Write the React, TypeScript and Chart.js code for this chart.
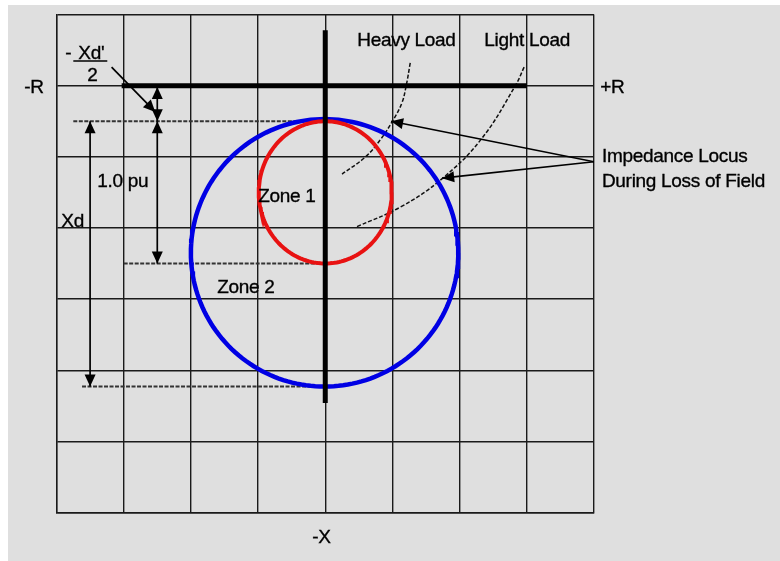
import React, { useEffect, useRef } from "react";
import { Chart, registerables } from "chart.js";
Chart.register(...registerables);

// ---- axes ranges (grid units) ----
const xRange = [-4, 4];
const yRange = [-6, 1];

// ---- circles: Zone 1 (red), Zone 2 (blue) ----
const circleCenterX = [0, -0.01];
const circleCenterY = [-1.5, -2.35];
const circleRadiusX = [0.99, 1.99];
const circleRadiusY = [1.0, 1.88];
const circleColors = ["rgb(232,18,18)", "rgb(0,0,228)"];

// ---- thick R / X axes ----
const rAxisX = [-3.03, 3.0];
const xAxisY = [0.78, -4.46];

// ---- load curves (dashed) ----
const heavyLoadX = [1.265, 1.205, 1.14, 1.01, 0.82, 0.595, 0.25];
const heavyLoadY = [0.32, 0, -0.245, -0.484, -0.76, -1.004, -1.243];
const lightLoadX = [2.96, 2.83, 2.31, 1.71, 1.12, 0.46];
const lightLoadY = [0.26, 0, -0.766, -1.33, -1.706, -1.987];

// ---- dotted reference lines ----
const refLineY = [-0.5, -2.5, -4.23];
const refLineStartX = [-3.75, -3.0, -3.62];
const refLineEndX = [0, 0, 0];

// ---- arrows ----
const arrowFromX = [-3.5, -2.5, -2.5, -3.18, 4.0, 4.0];
const arrowFromY = [-0.5, -0.5, -0.02, 0.26, -1.07, -1.07];
const arrowToX = [-3.5, -2.5, -2.5, -2.53, 0.98, 1.74];
const arrowToY = [-4.23, -2.5, -0.5, -0.37, -0.5, -1.3];
const arrowBothEnds = [true, true, true, false, false, false];

// ---- labels (left x, baseline y in grid units) ----
const labelTexts = ["-R", "+R", "-X", "Heavy Load", "Light Load", "Impedance Locus", "During Loss of Field", "Zone 1", "Zone 2", "1.0 pu", "Xd", "-", "Xd'", "2"];
const labelX = [-4.479, 4.092, -0.193, 0.476, 2.366, 4.118, 4.118, -0.997, -1.607, -3.393, -3.929, -3.869, -3.676, -3.542];
const labelY = [-0.1, -0.104, -6.434, 0.557, 0.557, -1.07, -1.421, -1.632, -2.92, -1.421, -1.983, 0.37, 0.37, 0.069];
const underlineX = [-3.75, -3.244];
const underlineY = [0.346, 0.346];

function ellipsePoints(cx: number, cy: number, rx: number, ry: number) {
  const pts: { x: number; y: number }[] = [];
  const n = 180;
  for (let i = 0; i <= n; i++) {
    const t = (i / n) * Math.PI * 2;
    pts.push({ x: cx + rx * Math.cos(t), y: cy + ry * Math.sin(t) });
  }
  return pts;
}

function zip(xs: number[], ys: number[]) {
  return xs.map((v, i) => ({ x: v, y: ys[i] }));
}

function drawHead(ctx: CanvasRenderingContext2D, fx: number, fy: number, tx: number, ty: number) {
  const a = Math.atan2(ty - fy, tx - fx);
  const L = 12;
  const W = 5.5;
  const c = Math.cos(a);
  const s = Math.sin(a);
  ctx.beginPath();
  ctx.moveTo(tx, ty);
  ctx.lineTo(tx - L * c + W * s, ty - L * s - W * c);
  ctx.lineTo(tx - L * c - W * s, ty - L * s + W * c);
  ctx.closePath();
  ctx.fill();
}

const overlayPlugin = {
  id: "overlay",
  afterDatasetsDraw(chart: any) {
    const { ctx } = chart;
    const xs = chart.scales.x;
    const ys = chart.scales.y;
    ctx.save();
    ctx.fillStyle = "#000";
    arrowFromX.forEach((_, i) => {
      const fx = xs.getPixelForValue(arrowFromX[i]);
      const fy = ys.getPixelForValue(arrowFromY[i]);
      const tx = xs.getPixelForValue(arrowToX[i]);
      const ty = ys.getPixelForValue(arrowToY[i]);
      drawHead(ctx, fx, fy, tx, ty);
      if (arrowBothEnds[i]) drawHead(ctx, tx, ty, fx, fy);
    });
    ctx.font = '19px "Liberation Sans", Arial, sans-serif';
    try {
      (ctx as any).letterSpacing = "-0.3px";
    } catch (e) {}
    ctx.textAlign = "left";
    ctx.textBaseline = "alphabetic";
    ctx.strokeStyle = "#000";
    ctx.lineWidth = 0.35;
    labelTexts.forEach((t, i) => {
      const px = xs.getPixelForValue(labelX[i]);
      const py = ys.getPixelForValue(labelY[i]);
      ctx.fillText(t, px, py);
      ctx.strokeText(t, px, py);
    });
    ctx.lineWidth = 1.5;
    ctx.beginPath();
    ctx.moveTo(xs.getPixelForValue(underlineX[0]), ys.getPixelForValue(underlineY[0]));
    ctx.lineTo(xs.getPixelForValue(underlineX[1]), ys.getPixelForValue(underlineY[1]));
    ctx.stroke();
    ctx.restore();
  },
};

export default function App() {
  const ref = useRef<HTMLCanvasElement | null>(null);
  useEffect(() => {
    if (!ref.current) return;
    const datasets: any[] = [];
    // dotted reference lines
    refLineY.forEach((yv, i) => {
      datasets.push({
        data: [
          { x: refLineStartX[i], y: yv },
          { x: refLineEndX[i], y: yv },
        ],
        borderColor: "#333",
        borderWidth: 2,
        borderDash: [4, 1.5],
        order: 5,
      });
    });
    // load curves
    datasets.push({
      data: zip(heavyLoadX, heavyLoadY),
      borderColor: "#111",
      borderWidth: 1.5,
      borderDash: [4, 2],
      tension: 0.4,
      order: 4,
    });
    datasets.push({
      data: zip(lightLoadX, lightLoadY),
      borderColor: "#111",
      borderWidth: 1.5,
      borderDash: [4, 2],
      tension: 0.4,
      order: 4,
    });
    // circles
    circleCenterX.forEach((cx, i) => {
      datasets.push({
        data: ellipsePoints(cx, circleCenterY[i], circleRadiusX[i], circleRadiusY[i]),
        borderColor: circleColors[i],
        borderWidth: i === 0 ? 4 : 4.5,
        order: 3,
      });
    });
    // arrow shafts
    arrowFromX.forEach((_, i) => {
      datasets.push({
        data: [
          { x: arrowFromX[i], y: arrowFromY[i] },
          { x: arrowToX[i], y: arrowToY[i] },
        ],
        borderColor: "#000",
        borderWidth: 1.7,
        order: 2,
      });
    });
    // thick axes
    datasets.push({
      data: [
        { x: rAxisX[0], y: 0 },
        { x: rAxisX[1], y: 0 },
      ],
      borderColor: "#000",
      borderWidth: 5,
      order: 1,
    });
    datasets.push({
      data: [
        { x: 0, y: xAxisY[0] },
        { x: 0, y: xAxisY[1] },
      ],
      borderColor: "#000",
      borderWidth: 5,
      order: 1,
    });
    datasets.forEach((d) => {
      d.showLine = true;
      d.pointRadius = 0;
      d.fill = false;
      d.backgroundColor = "transparent";
    });

    const chart = new Chart(ref.current, {
      type: "scatter",
      data: { datasets },
      options: {
        animation: false,
        responsive: false,
        events: [],
        layout: { padding: { left: 48.5, top: 9.5, right: 186, bottom: 48.5 } },
        plugins: { legend: { display: false }, tooltip: { enabled: false } },
        scales: {
          x: {
            type: "linear",
            min: xRange[0],
            max: xRange[1],
            ticks: { display: false, stepSize: 1 },
            grid: { color: "#1a1a1a", lineWidth: 1.4, drawTicks: false },
            border: { color: "#1a1a1a", width: 1.4 },
          },
          y: {
            type: "linear",
            min: yRange[0],
            max: yRange[1],
            ticks: { display: false, stepSize: 1 },
            grid: { color: "#1a1a1a", lineWidth: 1.4, drawTicks: false },
            border: { color: "#1a1a1a", width: 1.4 },
          },
        },
      },
      plugins: [overlayPlugin],
    } as any);
    return () => chart.destroy();
  }, []);

  return (
    <div
      style={{
        position: "absolute",
        left: 8,
        top: 5,
        width: 772,
        height: 556,
        background: "#dfdfdf",
      }}
    >
      <canvas ref={ref} width={772} height={556} style={{ display: "block" }} />
    </div>
  );
}
